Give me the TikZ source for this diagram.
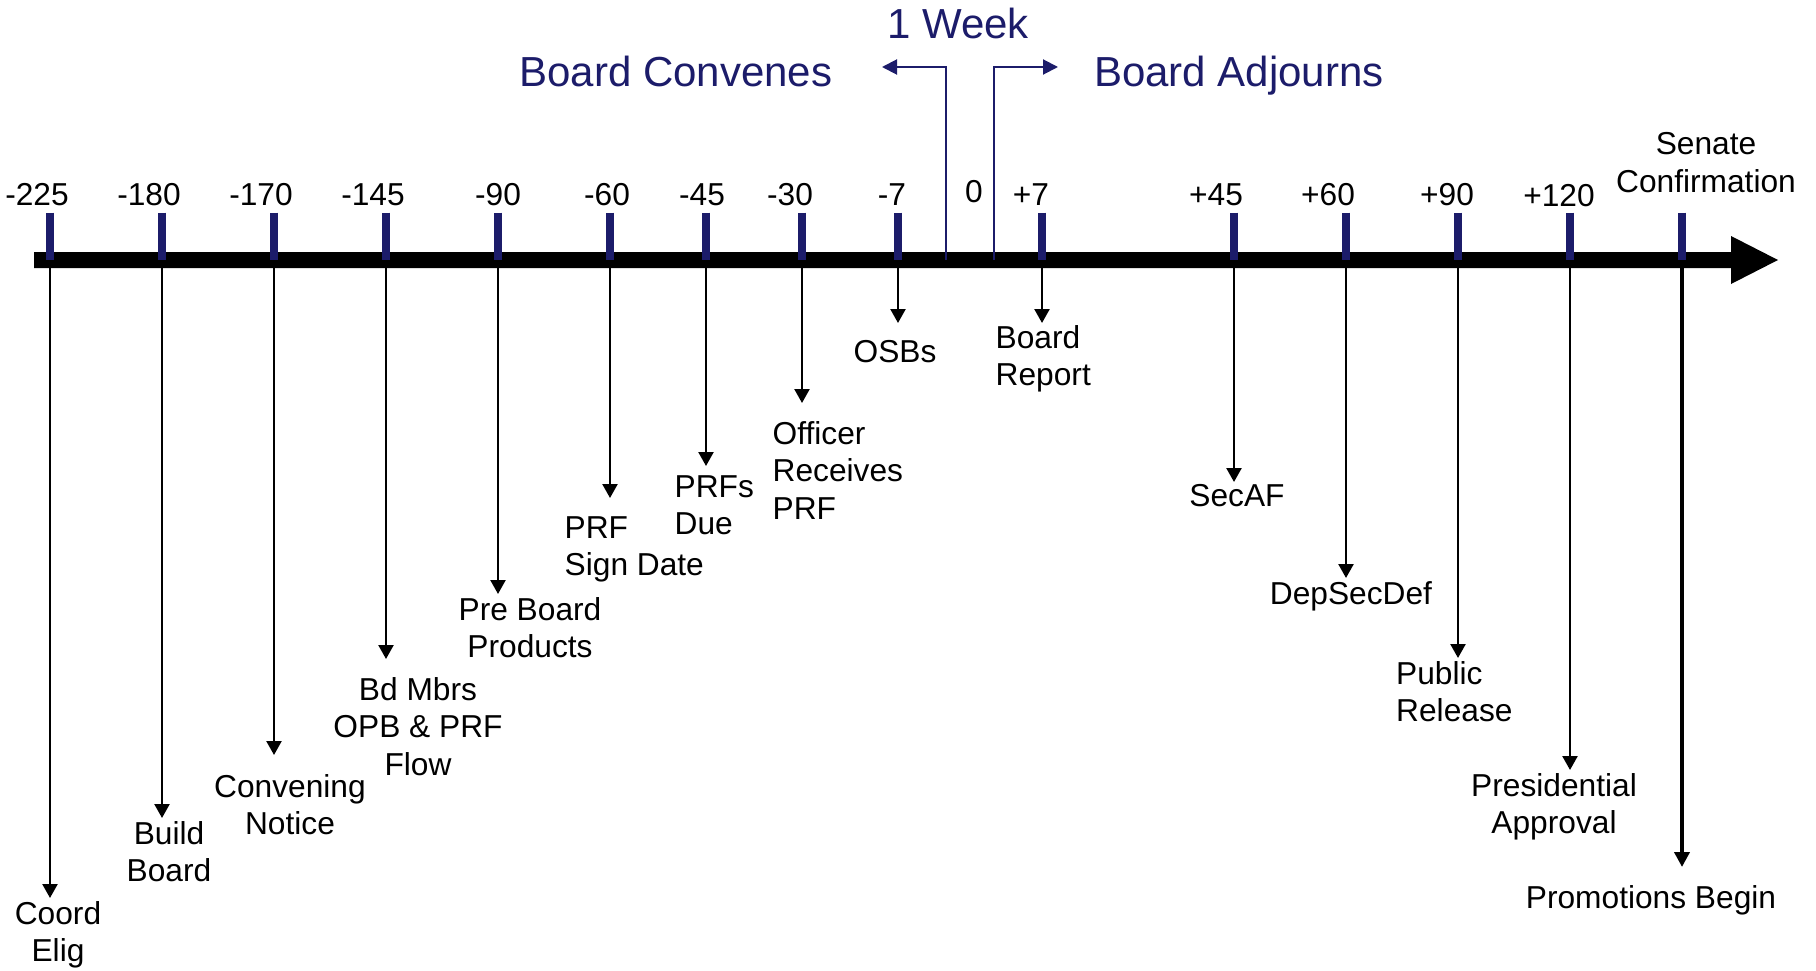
\documentclass[tikz,border=0pt]{standalone}
\usepackage{fontspec}
\setmainfont{Liberation Sans}
\usetikzlibrary{arrows.meta}
\definecolor{navy}{RGB}{28,28,106}
\begin{document}
\begin{tikzpicture}[x=1pt,y=-1pt,
  lbl/.style={inner sep=0pt, font=\fontsize{31.7}{37.8}\selectfont, text=black},
  num/.style={lbl, anchor=base},
  cdown/.style={lbl, anchor=north, align=center},
  ldown/.style={lbl, anchor=north west, align=left},
  ttl/.style={inner sep=0pt, font=\fontsize{42}{48}\selectfont, text=navy, anchor=base},
  tickmark/.style={draw=navy, line width=8pt},
  drop/.style={draw=black, line width=2.4pt, -{Triangle[width=15pt,length=14pt]}},
  bigdrop/.style={draw=black, line width=3.8pt, -{Triangle[width=15pt,length=15pt]}},
  bracket/.style={draw=navy, line width=2pt, -{Triangle[width=15pt,length=15pt]}},
]
\useasboundingbox (0,0) rectangle (1816,971);

% main axis
\fill[black] (34,252) -- (1731,252) -- (1731,236) -- (1778,260) -- (1731,284) -- (1731,268) -- (34,268) -- cycle;

% tick positions
\foreach \n/\x in {1/50,2/162,3/274,4/386,5/498,6/610,7/706,8/802,9/898,11/1042,12/1234,13/1346,14/1458,15/1570,16/1682}{
  \coordinate (t\n) at (\x,268);
  \coordinate (k\n) at (\x,212.5);
  \draw[tickmark] (k\n) -- (\x,260);
}

% number labels
\node[num] (n1) at (37,205) {-225};
\node[num] (n2) at (149,205) {-180};
\node[num] (n3) at (261,205) {-170};
\node[num] (n4) at (373,205) {-145};
\node[num] (n5) at (498,205) {-90};
\node[num] (n6) at (607,205) {-60};
\node[num] (n7) at (702,205) {-45};
\node[num] (n8) at (790,205) {-30};
\node[num] (n9) at (892,205) {-7};
\node[num] (n10) at (974,202) {0};
\node[num] (n11) at (1031,205) {+7};
\node[num] (n12) at (1216,205) {+45};
\node[num] (n13) at (1328,205) {+60};
\node[num] (n14) at (1447,205) {+90};
\node[num] (n15) at (1559,206) {+120};
\node[cdown] (n16) at (1706,132) {Senate\\Confirmation};

% titles
\node[ttl] (conv) at (676,87) {Board Convenes};
\node[ttl] (adj) at (1239,87) {Board Adjourns};
\node[ttl] (week) at (958,39) {1 Week};

% bracket arrows
\coordinate (bl0) at (946,260);
\coordinate (bl1) at (946,67);
\coordinate (bl2) at (882,67);
\coordinate (br0) at (994,260);
\coordinate (br1) at (994,67);
\coordinate (br2) at (1058,67);
\draw[bracket] (bl0) -- (bl1) -- (bl2);
\draw[bracket] (br0) -- (br1) -- (br2);

% event labels
\node[cdown] (l1) at (58,901) {Coord\\Elig};
\node[cdown] (l2) at (169,821) {Build\\Board};
\node[cdown] (l3) at (290,774) {Convening\\Notice};
\node[cdown] (l4) at (418,677) {Bd Mbrs\\OPB \& PRF\\Flow};
\node[cdown] (l5) at (530,597) {Pre Board\\Products};
\node[ldown] (l6) at (564.5,516) {PRF\\Sign Date};
\node[ldown] (l7) at (674.5,475) {PRFs\\Due};
\node[ldown] (l8) at (772.5,421) {Officer\\Receives\\PRF};
\node[cdown] (l9) at (895,340) {OSBs};
\node[ldown] (l11) at (995.5,325) {Board\\Report};
\node[cdown] (l12) at (1237,484) {SecAF};
\node[cdown] (l13) at (1351,581) {DepSecDef};
\node[ldown] (l14) at (1396,661) {Public\\Release};
\node[cdown] (l15) at (1554,773) {Presidential\\Approval};
\node[cdown] (l16) at (1651,885) {Promotions Begin};

% arrow ends
\coordinate (e1) at (50,898);
\coordinate (e2) at (162,818);
\coordinate (e3) at (274,755);
\coordinate (e4) at (386,659);
\coordinate (e5) at (498,594);
\coordinate (e6) at (610,498);
\coordinate (e7) at (706,466);
\coordinate (e8) at (802,403);
\coordinate (e9) at (898,323);
\coordinate (e11) at (1042,323);
\coordinate (e12) at (1234,482);
\coordinate (e13) at (1346,578);
\coordinate (e14) at (1458,658);
\coordinate (e15) at (1570,770);
\coordinate (e16) at (1682,867);

\foreach \n in {1,2,3,4,5,6,7,8,9,11,12,13,14,15}{
  \draw[drop] (t\n) -- (e\n);
}
\draw[bigdrop] (t16) -- (e16);

\end{tikzpicture}
\end{document}
